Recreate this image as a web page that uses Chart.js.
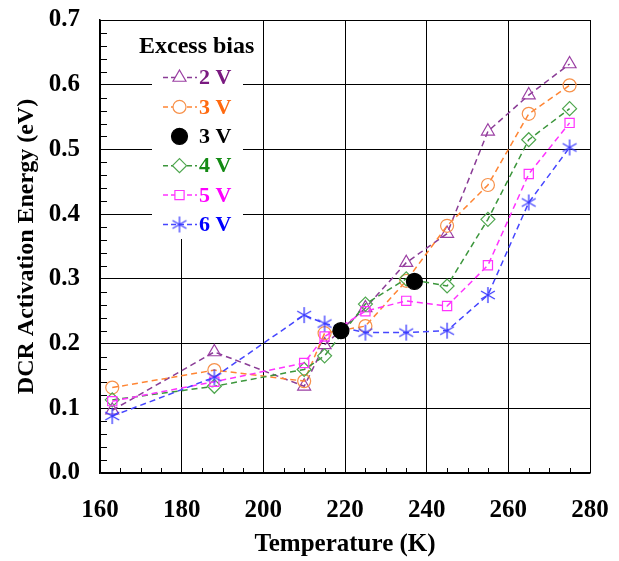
<!DOCTYPE html>
<html>
<head>
<meta charset="utf-8">
<script src="https://cdn.jsdelivr.net/npm/chart.js@4.4.1/dist/chart.umd.min.js"></script>
<style>
html,body{margin:0;padding:0;background:#fff;}
canvas{display:block;}
</style>
</head>
<body>
<canvas id="c" width="619" height="561"></canvas>
<script>
// ---- data ----
const temps = [163, 188, 210, 215, 225, 235, 245, 255, 265, 275];
const e2V = [0.097, 0.187, 0.134, 0.198, 0.255, 0.325, 0.370, 0.528, 0.584, 0.632];
const e3V = [0.132, 0.159, 0.142, 0.216, 0.227, 0.297, 0.382, 0.445, 0.555, 0.599];
const blackTemps = [219, 237];
const black3V = [0.220, 0.296];
const e4V = [0.113, 0.134, 0.160, 0.181, 0.261, 0.300, 0.289, 0.392, 0.515, 0.563];
const e5V = [0.111, 0.141, 0.170, 0.211, 0.250, 0.266, 0.258, 0.321, 0.462, 0.541];
const e6V = [0.088, 0.148, 0.244, 0.231, 0.217, 0.217, 0.220, 0.275, 0.418, 0.503];
const xTicks = [160, 180, 200, 220, 240, 260, 280];
const yTicks = [0.0, 0.1, 0.2, 0.3, 0.4, 0.5, 0.6, 0.7];
const legendLabels = ['2 V', '3 V', '3 V', '4 V', '5 V', '6 V'];
const legendTitle = 'Excess bias';

const FONT = '"Liberation Serif", "Times New Roman", serif';

function asterisk(color, r) {
  const s = Math.ceil(r * 2 + 4);
  const cv = document.createElement('canvas');
  cv.width = s; cv.height = s;
  const g = cv.getContext('2d');
  const c = s / 2;
  g.strokeStyle = color; g.lineWidth = 1.3;
  g.beginPath();
  g.moveTo(c, c - r); g.lineTo(c, c + r);
  const dx = r * Math.cos(Math.PI / 6), dy = r * Math.sin(Math.PI / 6);
  g.moveTo(c - dx, c - dy); g.lineTo(c + dx, c + dy);
  g.moveTo(c - dx, c + dy); g.lineTo(c + dx, c - dy);
  g.stroke();
  return cv;
}
const starImg = asterisk('#3a3aff', 8);

const pts = (xs, ys) => xs.map((x, i) => ({x: x, y: ys[i]}));

const series = [
  {label: legendLabels[0], data: pts(temps, e2V), line: '#8a3c96', mark: '#9b3fa3', text: '#7a1a80', style: 'triangle', r: 7.5},
  {label: legendLabels[1], data: pts(temps, e3V), line: '#ff8533', mark: '#f7914a', text: '#ff6a10', style: 'circle', r: 6.5},
  {label: legendLabels[2], data: pts(blackTemps, black3V), line: null, mark: '#000', text: '#000', style: 'circle', r: 8, fill: true},
  {label: legendLabels[3], data: pts(temps, e4V), line: '#3c963c', mark: '#4ea64e', text: '#138a13', style: 'rectRot', r: 7},
  {label: legendLabels[4], data: pts(temps, e5V), line: '#ff33ff', mark: '#ff33ff', text: '#ff00ff', style: 'rect', r: 6.5},
  {label: legendLabels[5], data: pts(temps, e6V), line: '#4646ff', mark: '#3a3aff', text: '#0000ff', style: starImg, r: 8}
];

const datasets = series.map((s, i) => ({
  label: s.label,
  data: s.data,
  showLine: !!s.line,
  borderColor: s.line || s.mark,
  borderWidth: 1.5,
  borderDash: [6, 4],
  pointStyle: s.style,
  pointRadius: s.r,
  pointBorderColor: s.mark,
  pointBackgroundColor: s.fill ? s.mark : 'rgba(255,255,255,0)',
  pointBorderWidth: 1.2,
  order: s.fill ? 0 : 6 - i,
  tension: 0
}));

const legendBox = {
  id: 'legendBox',
  beforeDatasetsDraw(chart) {
    const ctx = chart.ctx;
    ctx.save();
    ctx.fillStyle = '#fff';
    ctx.fillRect(152, 21, 91, 218);
    ctx.restore();
  },
  afterDraw(chart) {
    const ctx = chart.ctx;
    ctx.save();
    // minor ticks
    const xs = chart.scales.x, ys = chart.scales.y;
    ctx.strokeStyle = '#000'; ctx.lineWidth = 1;
    ctx.beginPath();
    for (let v = 165; v < 280; v += 5) {
      if (v % 20 === 0) continue;
      const px = Math.round(xs.getPixelForValue(v)) + 0.5;
      ctx.moveTo(px, ys.bottom); ctx.lineTo(px, ys.bottom - 5);
    }
    for (let k = 1; k < 35; k++) {
      if (k % 5 === 0) continue;
      const py = Math.round(ys.getPixelForValue(k * 0.02)) + 0.5;
      ctx.moveTo(xs.left, py); ctx.lineTo(xs.left + 7, py);
    }
    ctx.stroke();
    // legend
    ctx.fillStyle = '#000';
    ctx.font = 'bold 24px ' + FONT;
    ctx.textBaseline = 'middle';
    ctx.textAlign = 'left';
    ctx.fillText(legendTitle, 139, 47);
    ctx.font = 'bold 22px ' + FONT;
    series.forEach((s, i) => {
      const y = 77.5 + i * 29.4;
      const mx = 179.5;
      if (s.line) {
        ctx.save();
        ctx.strokeStyle = s.line; ctx.lineWidth = 1.5;
        ctx.setLineDash([5, 3]);
        ctx.beginPath(); ctx.moveTo(163, y); ctx.lineTo(197, y); ctx.stroke();
        ctx.restore();
      }
      ctx.save();
      ctx.strokeStyle = s.mark; ctx.fillStyle = s.fill ? s.mark : '#fff';
      ctx.lineWidth = 1.2;
      Chart.helpers.drawPoint(ctx, {pointStyle: s.style, radius: s.r, borderWidth: 1.2, rotation: 0}, mx, y);
      ctx.restore();
      ctx.fillStyle = s.text;
      ctx.fillText(s.label, 199, y + 1);
    });
    ctx.restore();
  }
};

new Chart(document.getElementById('c'), {
  type: 'scatter',
  data: {datasets: datasets},
  options: {
    responsive: false,
    devicePixelRatio: 1,
    animation: false,
    layout: {padding: {left: 0, top: 20, right: 29, bottom: 0}},
    plugins: {legend: {display: false}, tooltip: {enabled: false}},
    scales: {
      x: {
        type: 'linear', min: 160, max: 280,
        afterBuildTicks: (sc) => { sc.ticks = xTicks.map(v => ({value: v})); },
        afterFit: (sc) => { sc.height = 88; sc.paddingLeft = 0; sc.paddingRight = 0; },
        grid: {color: '#000', lineWidth: 1, drawTicks: false},
        border: {color: '#000', width: 1.5},
        ticks: {color: '#000', padding: 23, font: {family: FONT, size: 25, weight: 'bold'}, maxRotation: 0},
        title: {display: true, text: 'Temperature (K)', color: '#000', padding: {top: 0, bottom: 1}, font: {family: FONT, size: 25, weight: 'bold'}}
      },
      y: {
        type: 'linear', min: 0, max: 0.7,
        afterBuildTicks: (sc) => { sc.ticks = yTicks.map(v => ({value: v})); },
        afterFit: (sc) => { sc.width = 100; sc.paddingTop = 0; sc.paddingBottom = 0; },
        grid: {color: '#000', lineWidth: 1, drawTicks: false},
        border: {color: '#000', width: 1.5},
        ticks: {color: '#000', padding: 20, font: {family: FONT, size: 25, weight: 'bold'}, callback: (v) => Number(v).toFixed(1)},
        title: {display: true, text: 'DCR Activation Energy (eV)', color: '#000', padding: {top: 12, bottom: 0}, font: {family: FONT, size: 24, weight: 'bold'}}
      }
    }
  },
  plugins: [legendBox]
});
</script>
</body>
</html>
